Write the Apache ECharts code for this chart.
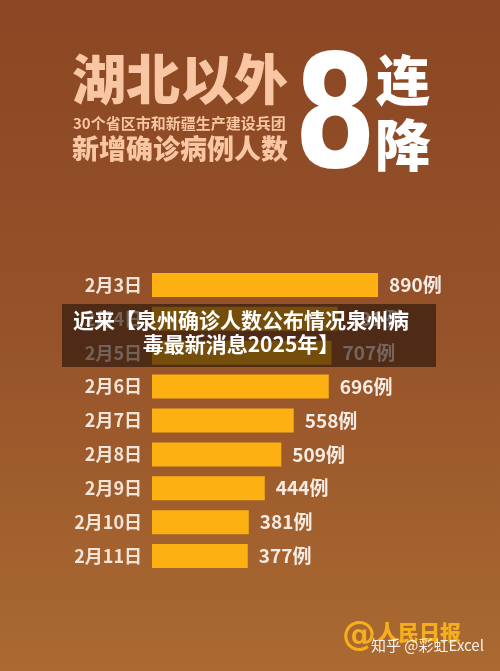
<!DOCTYPE html>
<html>
<head>
<meta charset="utf-8">
<script src="https://cdn.jsdelivr.net/npm/echarts@6/dist/echarts.min.js"></script>
<style>
html,body{margin:0;padding:0;background:#8f4d25;}
#main{width:500px;height:671px;}
</style>
</head>
<body>
<div id="main"></div>
<script>
var categories = ['2月3日','2月4日','2月5日','2月6日','2月7日','2月8日','2月9日','2月10日','2月11日'];
var cases = [890, 731, 707, 696, 558, 509, 444, 381, 377];
var valueUnit = '例';
var titleMain = '湖北以外';
var titleSub = '30个省区市和新疆生产建设兵团';
var titleSub2 = '新增确诊病例人数';
var bigNumber = '8';
var bigWords = ['连', '降'];
var bannerText = '近来【泉州确诊人数公布情况泉州病\n毒最新消息2025年】';
var sourceText = '人民日报';
var watermark = '知乎 @彩虹Excel';

var CJK = '"Noto Sans CJK SC", "Noto Sans", sans-serif';
var chart = echarts.init(document.getElementById('main'), null, {renderer: 'canvas'});
chart.setOption({
  animation: false,
  backgroundColor: {
    type: 'linear', x: 0, y: 0, x2: 0, y2: 1,
    colorStops: [
      {offset: 0, color: '#8b4623'},
      {offset: 0.5, color: '#96532a'},
      {offset: 1, color: '#aa6a31'}
    ]
  },
  grid: {left: 152, top: 268, width: 254, height: 305, containLabel: false},
  xAxis: {type: 'value', min: 0, max: 1000, show: false},
  yAxis: {
    type: 'category', data: categories, inverse: true,
    axisLine: {show: false}, axisTick: {show: false},
    axisLabel: {color: '#f3e4d8', fontSize: 18, fontWeight: 'bold', fontFamily: CJK, margin: 10}
  },
  series: [{
    type: 'bar', data: cases, barWidth: 24,
    itemStyle: {color: '#fcb012'},
    label: {
      show: true, position: 'right', distance: 11,
      formatter: function (p) { return p.value + valueUnit; },
      color: '#f6ece4', fontSize: 19, fontWeight: 'bold', fontFamily: CJK
    }
  }],
  graphic: [
    {type: 'text', z: 100, left: 72, top: 52, style: {text: titleMain, fill: '#f8c6a3', font: '900 54px ' + CJK}},
    {type: 'text', z: 100, left: 73, top: 116, style: {text: titleSub, fill: '#f8c6a3', font: 'bold 15px ' + CJK}},
    {type: 'text', z: 100, left: 72, top: 135, style: {text: titleSub2, fill: '#f8c6a3', font: '900 27px ' + CJK}},
    {type: 'text', z: 100, x: 294, y: 126, scaleX: 0.76, style: {text: bigNumber, fill: '#ffffff', font: 'bold 156px "DejaVu Sans", sans-serif', verticalAlign: 'middle', align: 'left'}},
    {type: 'text', z: 100, x: 403, y: 80, style: {text: bigWords[0], fill: '#ffffff', font: '900 54px ' + CJK, align: 'center', verticalAlign: 'middle'}},
    {type: 'text', z: 100, x: 403, y: 145, style: {text: bigWords[1], fill: '#ffffff', font: '900 56px ' + CJK, align: 'center', verticalAlign: 'middle'}},
    {type: 'rect', z: 100, shape: {x: 62, y: 304, width: 374, height: 63}, style: {fill: 'rgba(35,18,10,0.62)'}},
    {type: 'text', z: 101, x: 241, y: 332, style: {text: bannerText, fill: '#ffffff', font: 'bold 21px ' + CJK, align: 'center', verticalAlign: 'middle', lineHeight: 24}},
    {type: 'text', z: 100, x: 359, y: 636, style: {text: '@', fill: '#f6ae1c', font: 'bold 34px "DejaVu Sans", sans-serif', align: 'center', verticalAlign: 'middle'}},
    {type: 'text', z: 100, left: 377, top: 622, style: {text: sourceText, fill: '#f6ae1c', font: '900 21px ' + CJK}},
    {type: 'text', z: 101, left: 371, top: 638, style: {text: watermark, fill: '#ffffff', font: '15px ' + CJK, opacity: 0.9}}
  ]
});
</script>
</body>
</html>
